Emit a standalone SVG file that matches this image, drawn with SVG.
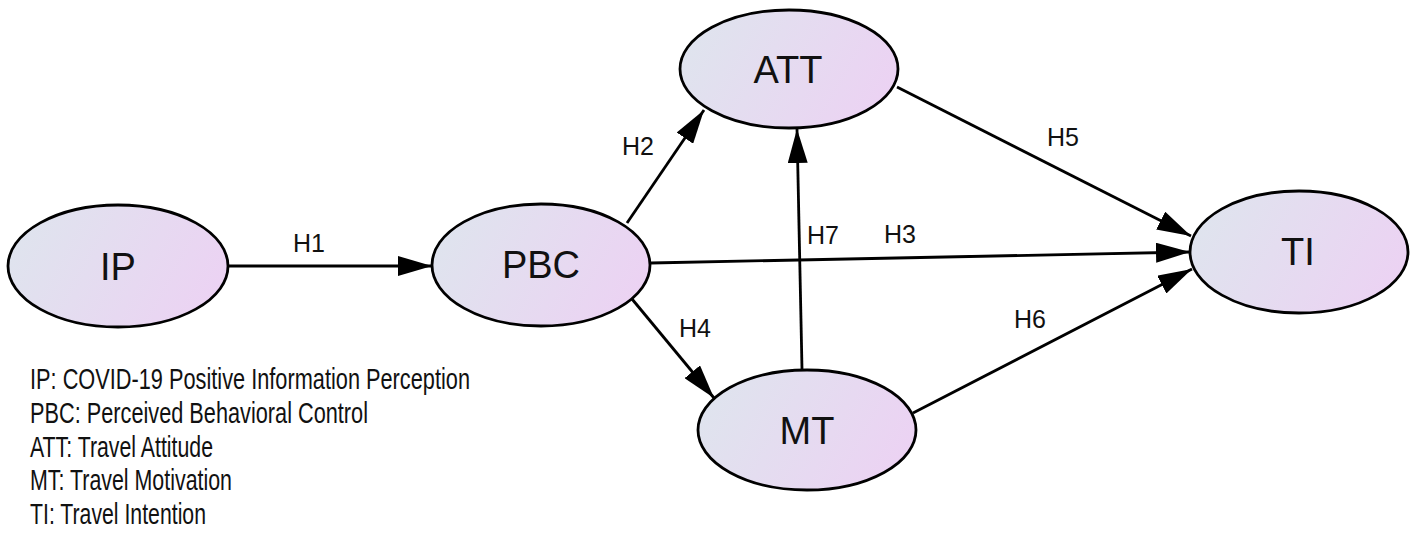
<svg xmlns="http://www.w3.org/2000/svg" width="1417" height="535" viewBox="0 0 1417 535">
<style>
.node{fill:url(#g);stroke:#000;stroke-width:2.8}
.nl{font-family:"Liberation Sans",Arial,sans-serif;font-size:38px;fill:#111;text-anchor:middle}
.el{font-family:"Liberation Sans",Arial,sans-serif;font-size:25px;fill:#111}
.edge{stroke:#000;stroke-width:2.8;fill:none;marker-end:url(#arr)}
.lg{font-family:"Liberation Sans",Arial,sans-serif;font-size:30px;fill:#111}
</style>
<defs>
<linearGradient id="g" x1="0" y1="0.35" x2="1" y2="0.65">
<stop offset="0" stop-color="#dfe4ee"/>
<stop offset="1" stop-color="#ecd2f3"/>
</linearGradient>
<marker id="arr" viewBox="0 0 34 20" refX="34" refY="10" markerWidth="34" markerHeight="20" markerUnits="userSpaceOnUse" orient="auto">
<path d="M0,0 L34,10 L0,20 Z" fill="#000"/>
</marker>
</defs>
<rect width="1417" height="535" fill="#fff"/>
<g id="connectors">
<line class="edge" x1="228" y1="266" x2="432" y2="266"/>
<line class="edge" x1="627" y1="223" x2="704" y2="110"/>
<line class="edge" x1="651" y1="263" x2="1190" y2="252"/>
<line class="edge" x1="632" y1="299" x2="714" y2="398"/>
<line class="edge" x1="897" y1="87" x2="1191" y2="236"/>
<line class="edge" x1="913" y1="413" x2="1192" y2="269"/>
<line class="edge" x1="802" y1="369" x2="797" y2="129"/>
<text class="el" x="293" y="252">H1</text>
<text class="el" x="622" y="155">H2</text>
<text class="el" x="884" y="243">H3</text>
<text class="el" x="679" y="337">H4</text>
<text class="el" x="1047" y="146">H5</text>
<text class="el" x="1014" y="328">H6</text>
<text class="el" x="807" y="244">H7</text>
</g>
<g id="IP"><ellipse class="node" cx="118" cy="266" rx="110" ry="61"/><text class="nl" x="118" y="280">IP</text></g>
<g id="PBC"><ellipse class="node" cx="541" cy="265" rx="109" ry="61"/><text class="nl" x="541" y="278">PBC</text></g>
<g id="ATT"><ellipse class="node" cx="789" cy="69" rx="109" ry="59"/><text class="nl" x="788" y="83">ATT</text></g>
<g id="MT"><ellipse class="node" cx="807" cy="430" rx="109" ry="60"/><text class="nl" x="807" y="444">MT</text></g>
<g id="TI"><ellipse class="node" cx="1299" cy="252" rx="109" ry="61"/><text class="nl" x="1298" y="265">TI</text></g>
<g id="legend">
<text class="lg" x="30" y="389" textLength="440" lengthAdjust="spacingAndGlyphs">IP: COVID-19 Positive Information Perception</text>
<text class="lg" x="30" y="423" textLength="338" lengthAdjust="spacingAndGlyphs">PBC: Perceived Behavioral Control</text>
<text class="lg" x="30" y="457" textLength="183" lengthAdjust="spacingAndGlyphs">ATT: Travel Attitude</text>
<text class="lg" x="30" y="490" textLength="202" lengthAdjust="spacingAndGlyphs">MT: Travel Motivation</text>
<text class="lg" x="30" y="524" textLength="176" lengthAdjust="spacingAndGlyphs">TI: Travel Intention</text>
</g>
</svg>
